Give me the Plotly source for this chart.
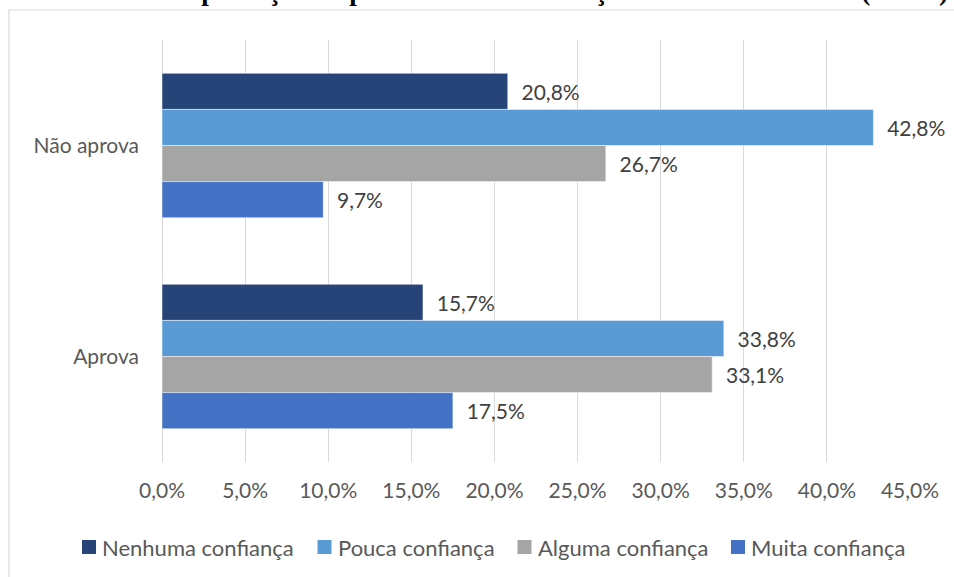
import plotly.graph_objects as go

categories = ["Não aprova", "Aprova"]
series_names = ["Nenhuma confiança", "Pouca confiança", "Alguma confiança", "Muita confiança"]
nenhuma = [20.8, 15.7]
pouca = [42.8, 33.8]
alguma = [26.7, 33.1]
muita = [9.7, 17.5]
tick_vals = [0, 5, 10, 15, 20, 25, 30, 35, 40, 45]
tick_labels = ["0,0%", "5,0%", "10,0%", "15,0%", "20,0%", "25,0%", "30,0%", "35,0%", "40,0%", "45,0%"]
title_text = "Gráfico 14 – Aprovação do presidente X Confiança no Poder Judiciário (Brasil)"

colors = ["#264478", "#5B9BD5", "#A5A5A5", "#4472C4"]
values = [nenhuma, pouca, alguma, muita]

FONT = "Lato, 'Open Sans', sans-serif"

fig = go.Figure()
for name, vals, col in zip(series_names, values, colors):
    fig.add_trace(go.Bar(
        y=categories, x=vals, name=name, orientation="h",
        marker=dict(color=col, line=dict(color="rgba(255,255,255,0.6)", width=0.8)),
        texttemplate="\u00a0\u00a0%{x:.1f}%", textposition="outside",
        textfont=dict(family=FONT, size=21, color="#404040"),
        cliponaxis=False, constraintext="none", showlegend=False,
    ))

L, R, T, B = 162, 44, 40, 115
W, H = 954, 577
pw, ph = W - L - R, H - T - B

def px_x(x):
    return (x - L) / pw

def px_y(y):
    return (H - B - y) / ph

shapes = [dict(type="rect", xref="paper", yref="paper",
               x0=px_x(9), x1=px_x(962), y0=px_y(585), y1=px_y(10),
               line=dict(color="#D9D9D9", width=1.2), fillcolor="rgba(0,0,0,0)", layer="below")]
annotations = [dict(text="<b>" + title_text + "</b>", xref="paper", yref="paper",
                    x=px_x(491), y=px_y(-9), xanchor="center", yanchor="middle",
                    showarrow=False,
                    font=dict(family="Liberation Serif, 'Times New Roman', serif", size=27, color="black"))]

# manual legend (positions only; names/colours from the series lists)
leg_sq_x = [89, 324.5, 524.5, 738]
leg_y = 547
for name, col, cx in zip(series_names, colors, leg_sq_x):
    shapes.append(dict(type="rect", xref="paper", yref="paper",
                       x0=px_x(cx - 7), x1=px_x(cx + 7), y0=px_y(leg_y + 7), y1=px_y(leg_y - 7),
                       line=dict(width=0), fillcolor=col))
    annotations.append(dict(text=name, xref="paper", yref="paper", x=px_x(cx + 11), y=px_y(leg_y),
                            xanchor="left", yanchor="middle", showarrow=False,
                            font=dict(family=FONT, size=22, color="#595959")))

fig.update_layout(
    width=W, height=H,
    margin=dict(l=L, r=R, t=T, b=B, autoexpand=False),
    paper_bgcolor="white", plot_bgcolor="white",
    barmode="group", bargap=0.316, bargroupgap=0,
    separators=",.",
    font=dict(family=FONT, size=21, color="#595959"),
    showlegend=False,
    xaxis=dict(range=[0, 45], tickvals=tick_vals, ticktext=tick_labels, automargin=False,
               showgrid=True, gridcolor="#D9D9D9", gridwidth=1,
               zeroline=True, zerolinecolor="#D9D9D9", zerolinewidth=1,
               showline=False, ticks="", ticklabelstandoff=14,
               tickfont=dict(family=FONT, size=21, color="#595959")),
    yaxis=dict(autorange="reversed", showgrid=False, zeroline=False, showline=False,
               ticks="", ticklabelstandoff=22, automargin=False,
               tickfont=dict(family=FONT, size=21, color="#595959")),
    shapes=shapes,
    annotations=annotations,
)

fig.write_html("out.html", config={"displayModeBar": False},
               post_script="document.body.style.margin='0';document.body.style.overflow='hidden';")
